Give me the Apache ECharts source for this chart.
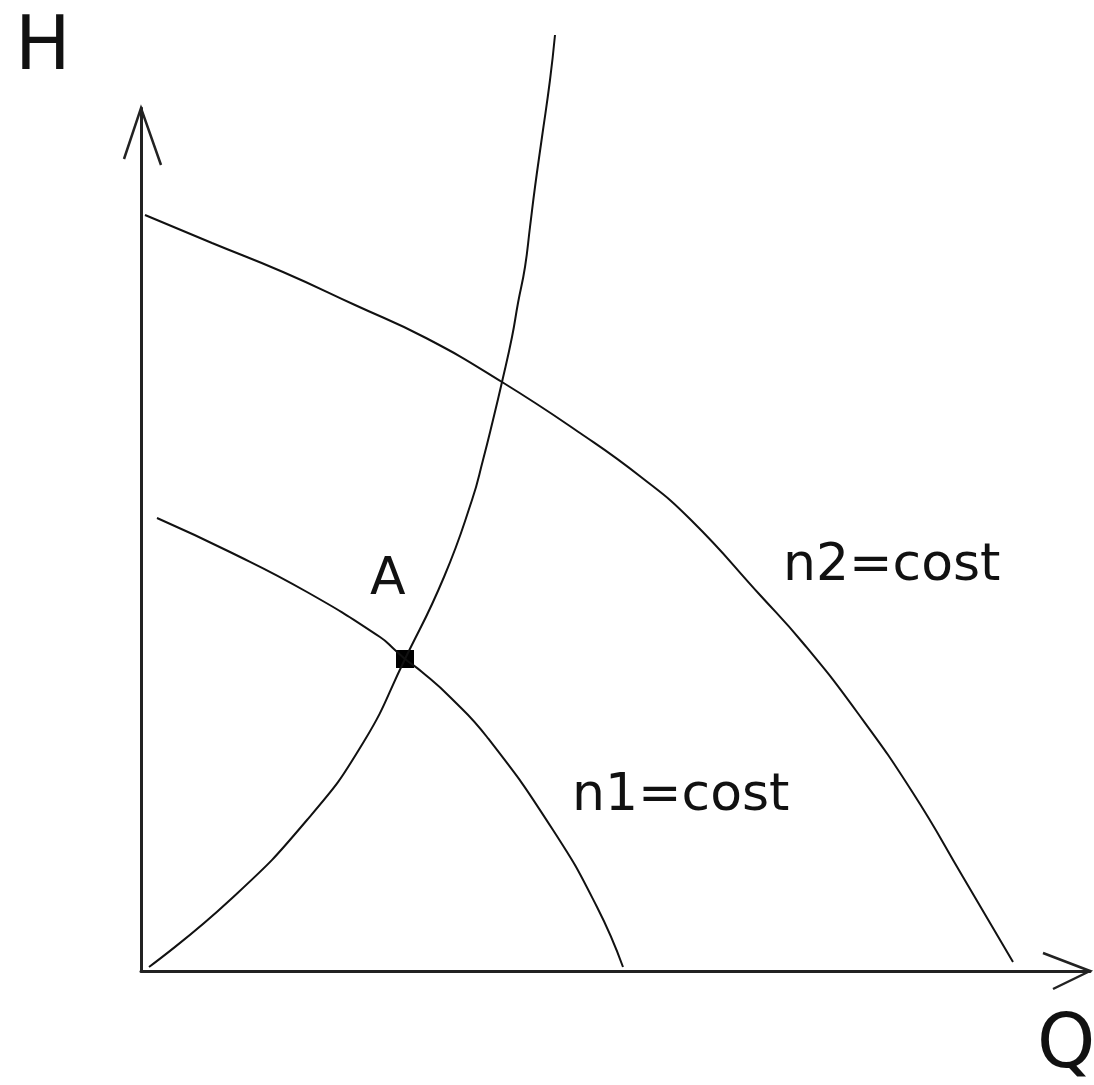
<!DOCTYPE html>
<html>
<head>
<meta charset="utf-8">
<script src="https://cdn.jsdelivr.net/npm/echarts@6/dist/echarts.min.js"></script>
<style>
  html, body { margin: 0; padding: 0; background: #fff; }
  #main { width: 1094px; height: 1085px; }
</style>
</head>
<body>
<div id="main"></div>
<script>
// curve points [Q, H]
var systemCurve = [[8, 4], [89, 71], [166, 151], [222, 228], [264, 312], [303, 394], [331, 471],
  [342, 511], [352, 551], [361, 589], [371, 634], [377, 668], [384, 704], [389, 744], [394, 784],
  [401, 834], [409, 891], [414, 936]];
var n1Curve = [[16, 453], [89, 419], [166, 379], [239, 334], [254, 321], [264, 312], [281, 299],
  [309, 274], [346, 234], [412, 141], [456, 64], [482, 4]];
var n2Curve = [[4, 756], [71, 728], [142, 699], [214, 666], [285, 633], [361, 589], [439, 538],
  [500, 494], [550, 451], [619, 376], [662, 328], [716, 259], [772, 178], [822, 94], [872, 9]];
var pointA = [[264, 312]];

// axis ranges and open arrow heads
var qMax = 949;
var hMax = 863;
var yArrow = [[-17, 812], [0, 863], [20, 806]];
var xArrow = [[902, 18], [949, 0], [912, -18]];

var lineColor = "#111";
var font = "DejaVu Sans, Verdana, sans-serif";

function curve(name, data) {
  return {
    name: name,
    type: "line",
    data: data,
    smooth: 0.5,
    showSymbol: false,
    clip: false,
    silent: true,
    lineStyle: { color: lineColor, width: 2 }
  };
}

var chart = echarts.init(document.getElementById("main"));
var option = {
  animation: false,
  backgroundColor: "#fff",
  grid: { left: 141, right: 4, top: 108, bottom: 114 },
  xAxis: {
    type: "value",
    min: 0,
    max: qMax,
    splitLine: { show: false },
    axisTick: { show: false },
    axisLabel: { show: false },
    axisLine: { show: true, onZero: false, lineStyle: { color: "#222", width: 3 } }
  },
  yAxis: {
    type: "value",
    min: 0,
    max: hMax,
    splitLine: { show: false },
    axisTick: { show: false },
    axisLabel: { show: false },
    axisLine: { show: true, onZero: false, lineStyle: { color: "#222", width: 3 } }
  },
  series: [
    curve("system", systemCurve),
    curve("n1", n1Curve),
    curve("n2", n2Curve),
    {
      name: "A",
      type: "scatter",
      data: pointA,
      symbol: "rect",
      symbolSize: 18,
      silent: true,
      itemStyle: { color: "#000", opacity: 1 },
      label: {
        show: true,
        formatter: "A",
        position: [-26, -96],
        color: "#111",
        fontSize: 52,
        fontFamily: font
      }
    }
  ]
};
chart.setOption(option);

// arrow heads drawn as open chevrons, placed through the axes
function toPx(list) {
  return list.map(function (p) {
    return chart.convertToPixel({ gridIndex: 0 }, p);
  });
}
chart.setOption({
  graphic: [
    { type: "polyline", shape: { points: toPx(yArrow) }, style: { stroke: "#222", lineWidth: 2.5, fill: null } },
    { type: "polyline", shape: { points: toPx(xArrow) }, style: { stroke: "#222", lineWidth: 2.5, fill: null } },
    { type: "text", left: 15, top: 13, style: { text: "H", font: "74px " + font, fill: "#111" } },
    { type: "text", left: 1037, top: 1011, style: { text: "Q", font: "74px " + font, fill: "#111" } },
    { type: "text", left: 783, top: 540, style: { text: "n2=cost", font: "52px " + font, fill: "#111" } },
    { type: "text", left: 572, top: 770, style: { text: "n1=cost", font: "52px " + font, fill: "#111" } }
  ]
});
</script>
</body>
</html>
